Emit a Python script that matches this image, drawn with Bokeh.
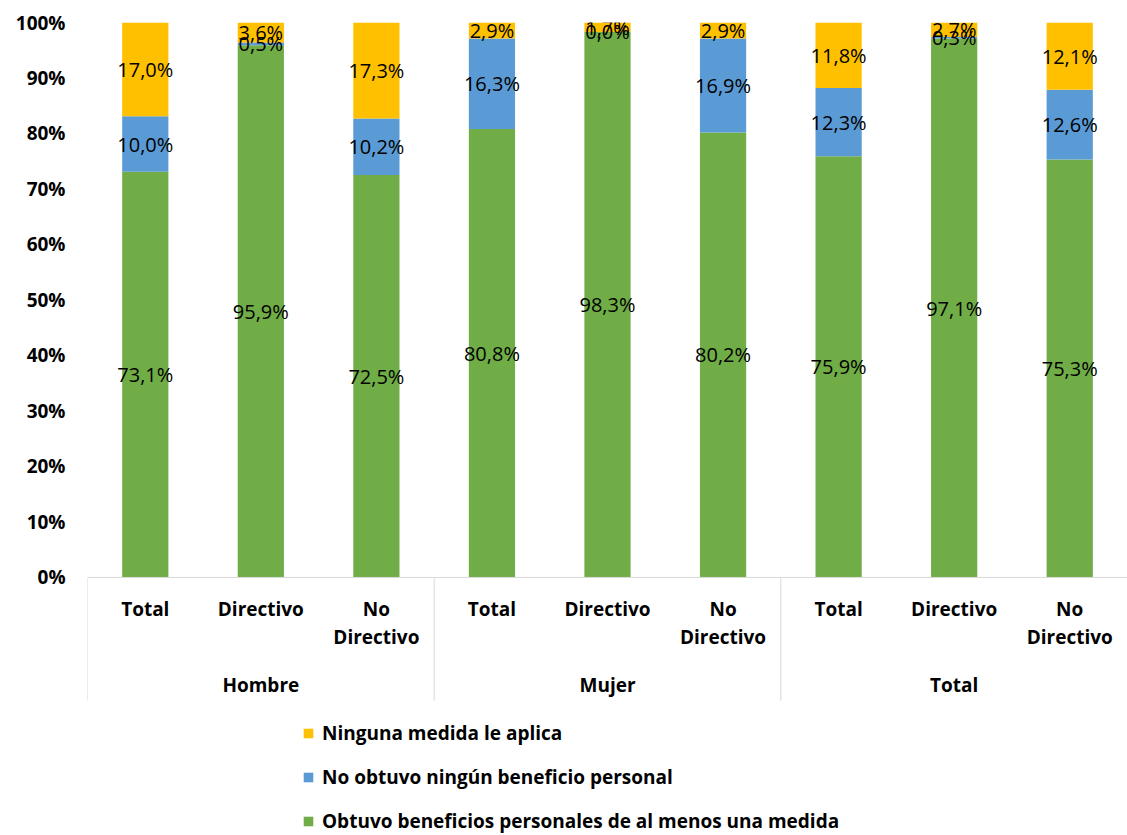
from bokeh.plotting import figure
from bokeh.models import (FactorRange, Range1d, ColumnDataSource, Legend, LegendItem,
                          Span, FixedTicker)
from bokeh.core.properties import value
from bokeh.embed import file_html
from bokeh.resources import INLINE

# ---- data ----
groups = ["Hombre", "Mujer", "Total"]
subgroups = ["Total", "Directivo", "No Directivo"]
sub_labels = ["Total", "Directivo", "No\nDirectivo"]
series_names = ["Obtuvo beneficios personales de al menos una medida",
                "No obtuvo ningún beneficio personal",
                "Ninguna medida le aplica"]
obtuvo = [73.1, 95.9, 72.5, 80.8, 98.3, 80.2, 75.9, 97.1, 75.3]
no_obtuvo = [10.0, 0.5, 10.2, 16.3, 0.0, 16.9, 12.3, 0.3, 12.6]
ninguna = [17.0, 3.6, 17.3, 2.9, 1.7, 2.9, 11.8, 2.7, 12.1]
colors = ["#70AD47", "#5B9BD5", "#FFC000"]
y_ticks = [0, 10, 20, 30, 40, 50, 60, 70, 80, 90, 100]
y_tick_labels = ["0%", "10%", "20%", "30%", "40%", "50%", "60%", "70%", "80%", "90%", "100%"]

BOLD = "Open Sans"
factors = [(g, s) for g in groups for s in subgroups]

src = ColumnDataSource(dict(x=factors, obtuvo=obtuvo, no_obtuvo=no_obtuvo, ninguna=ninguna))

p = figure(width=1127, height=835, output_backend="svg", toolbar_location=None,
           x_range=FactorRange(*factors, range_padding=0, factor_padding=0,
                               subgroup_padding=0, group_padding=0),
           y_range=Range1d(-46.5, 100),
           min_border_left=87, min_border_right=0, min_border_top=22, min_border_bottom=0)
p.outline_line_color = None
p.xgrid.visible = False
p.ygrid.visible = False
p.xaxis.visible = False

rs = p.vbar_stack(["obtuvo", "no_obtuvo", "ninguna"], x="x", width=0.4, color=colors,
                  line_color=None, source=src)

# data labels
lx, ly, lt = [], [], []
for i, f in enumerate(factors):
    base = 0.0
    for vals in (obtuvo, no_obtuvo, ninguna):
        v = vals[i]
        lx.append(f)
        ly.append(base + v / 2)
        lt.append(f"{v:.1f}".replace(".", ",") + "%")
        base += v
p.text(x=lx, y=ly, text=lt, text_align="center", text_baseline="middle",
       text_font=value("Open Sans"), text_font_size="20px", text_color="#000000")

# x axis line & category axis (drawn inside the frame below zero)
p.add_layout(Span(location=0, dimension="width", line_color="#D9D9D9", line_width=1))
p.text(x=factors, y=[-3.3] * len(factors), text=sub_labels * len(groups),
       text_align="center", text_baseline="top", text_line_height=1.1,
       text_font=value(BOLD), text_font_style="bold", text_font_size="19px",
       text_color="#000000")
p.text(x=[(g, "Directivo") for g in groups], y=[-19.3] * len(groups), text=groups,
       text_align="center", text_baseline="middle",
       text_font=value(BOLD), text_font_style="bold", text_font_size="19px",
       text_color="#000000")
sep_x = [(g, "Total", -0.5) for g in groups] + [(groups[-1], "No Directivo", 0.5)]
p.segment(x0=sep_x, y0=[0] * len(sep_x), x1=sep_x, y1=[-22.2] * len(sep_x),
          line_color="#D9D9D9", line_width=1)

# y axis
p.yaxis.ticker = FixedTicker(ticks=y_ticks)
p.yaxis.major_label_overrides = dict(zip(y_ticks, y_tick_labels))
p.yaxis.axis_line_color = None
p.yaxis.major_tick_line_color = None
p.yaxis.minor_tick_line_color = None
p.yaxis.major_tick_out = 0
p.yaxis.major_label_standoff = 22
p.yaxis.major_label_text_font = BOLD
p.yaxis.major_label_text_font_style = "bold"
p.yaxis.major_label_text_font_size = "19px"
p.yaxis.major_label_text_color = "#000000"

legend = Legend(items=[LegendItem(label=series_names[2], renderers=[rs[2]]),
                       LegendItem(label=series_names[1], renderers=[rs[1]]),
                       LegendItem(label=series_names[0], renderers=[rs[0]])],
                location=(215, 1), orientation="vertical", spacing=18, padding=0, margin=0,
                glyph_width=12, glyph_height=12, label_height=20, label_standoff=8,
                label_text_font=BOLD, label_text_font_style="bold",
                label_text_font_size="19px", label_text_color="#000000",
                border_line_color=None, background_fill_alpha=0)
p.add_layout(legend)

open("out.html", "w").write(file_html(p, INLINE))
